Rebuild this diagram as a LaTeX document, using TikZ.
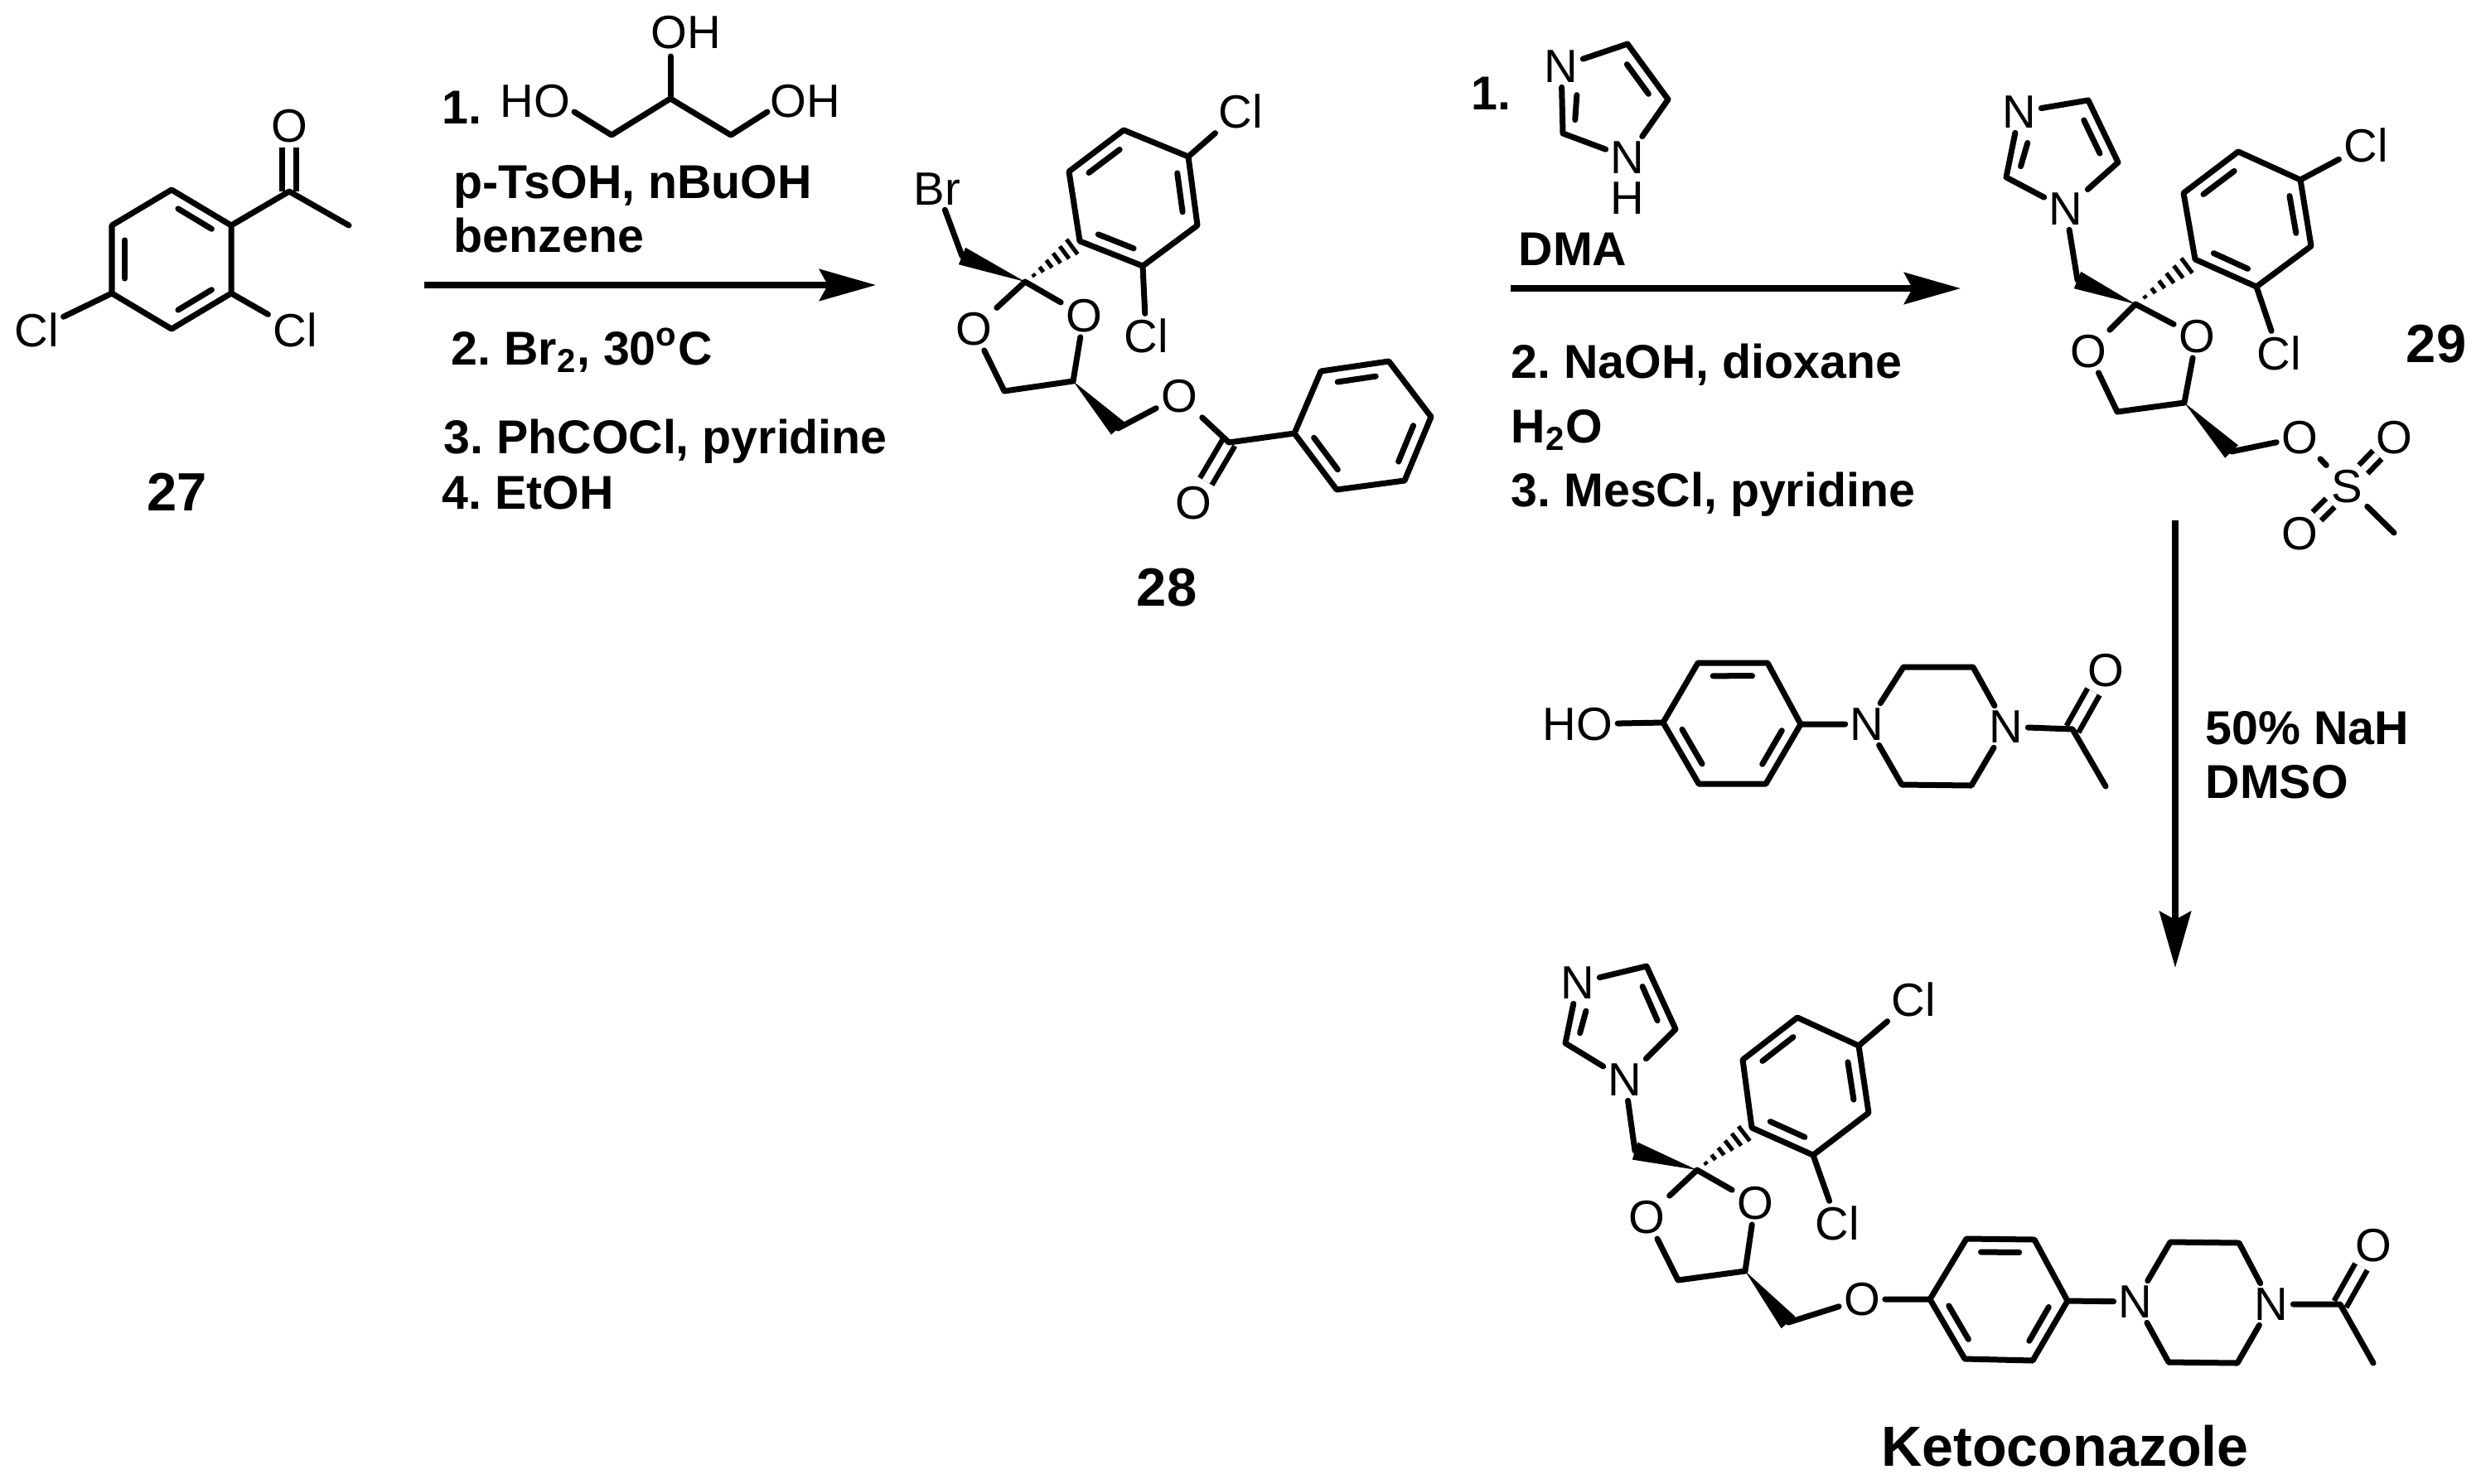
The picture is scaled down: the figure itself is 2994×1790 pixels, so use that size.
\documentclass[tikz,border=0pt]{standalone}
\usepackage{fontspec}
\setmainfont{Liberation Sans}
\frenchspacing
\usetikzlibrary{calc, arrows.meta}
\tikzset{bond/.style={line width=0.07cm, line cap=round, line join=round}}
\tikzset{dbond/.style={line width=0.065cm, double, double distance=0.1cm}}
\tikzset{hash/.style={line width=0.05cm}}
\tikzset{atom/.style={inner sep=1.5pt, font=\fontsize{16}{18}\selectfont}}
\tikzset{reagent/.style={anchor=base west, inner sep=0pt, font=\fontsize{16.3}{18}\selectfont\bfseries}}
\tikzset{cmpd/.style={inner sep=0pt, font=\fontsize{18.5}{22}\selectfont\bfseries}}
\tikzset{rxn/.style={line width=0.075cm, -{Stealth[length=0.68cm, width=0.38cm, inset=0.1cm]}}}
\newcommand{\pts}[1]{\foreach \n/\x/\y in {#1} \coordinate (\n) at (\x,\y);}
\newcommand{\innerbond}[3]{\draw[bond] ($($(#1)!.14!(#2)$)!0.17cm!(#3)$) -- ($($(#2)!.14!(#1)$)!0.17cm!(#3)$);}
\newcommand{\wedgebond}[2]{\fill (#1) -- ($(#2)!0.11cm!90:(#1)$) -- ($(#2)!0.11cm!-90:(#1)$) -- cycle;}
\newcommand{\hashbond}[2]{\foreach \tpos in {.16,.3,.44,.58,.72,.86}{
    \pgfmathsetmacro{\hw}{\tpos*0.13}
    \draw[hash] ($(#1)!\tpos!(#2)!\hw cm!90:(#2)$) -- ($(#1)!\tpos!(#2)!\hw cm!-90:(#2)$);}}
\begin{document}
\begin{tikzpicture}[x=0.01cm, y=-0.01cm]
  \useasboundingbox (0,0) rectangle (2994,1790);

  % compound 27
  \pts{ka1/207/229, ka2/279/272, ka3/279/354, ka4/207/397, ka5/135/354, ka6/135/272, kac/207/313, kco/349/231, kme/421/272}
  \node[atom] (kO) at (349,152) {O};
  \node[atom] (kcl1) at (356,398) {Cl};
  \node[atom] (kcl2) at (44,398) {Cl};
  \draw[dbond] (kco) -- (kO);
  \draw[bond] (ka1) -- (ka2) -- (ka3) -- (ka4) -- (ka5) -- (ka6) -- cycle;
  \draw[bond] (ka2) -- (kco) -- (kme);
  \draw[bond] (ka3) -- (kcl1);
  \draw[bond] (ka5) -- (kcl2);
  \innerbond{ka1}{ka2}{kac}
  \innerbond{ka3}{ka4}{kac}
  \innerbond{ka5}{ka6}{kac}
  \node[cmpd] (n27) at (214,594) {27};

  % glycerol and first arrow
  \pts{gc1/738/163, gc2/809/119, gc3/882/163, gho/693/135, goh/926/135, gtop/809/68}
  \node[atom] (gHO) at (646,122) {HO};
  \node[atom] (gOH) at (972,122) {OH};
  \node[atom] (gOHt) at (828,39) {OH};
  \draw[bond] (gho) -- (gc1) -- (gc2) -- (gc3) -- (goh);
  \draw[bond] (gc2) -- (gtop);
  \node[reagent] (r1a) at (533,149) {1.};
  \node[reagent] (r1b) at (547,239) {p-TsOH, nBuOH};
  \node[reagent] (r1c) at (547,304) {benzene};
  \node[reagent] (r1d) at (544,440) {2. Br\textsubscript{2}, 30\textsuperscript{o}C};
  \node[reagent] (r1e) at (535,547) {3. PhCOCl, pyridine};
  \node[reagent] (r1f) at (533,614) {4. EtOH};
  \pts{ar1s/512/344, ar1e/1057/344}
  \draw[rxn] (ar1s) -- (ar1e);

  % compound 28
  \pts{bc/1237/340, bch/1161/309, ba1/1303/291, ba2/1379/321, ba3/1445/272, ba4/1434/189, ba5/1356/157, ba6/1290/207, bac/1367/239, bd1/1212/472, bd2/1295/460, bch2/1349/517, bco/1483/534, bp1/1562/523, bp2/1594/448, bp3/1676/436, bp4/1727/503, bp5/1695/580, bp6/1613/591, bpc/1645/513}
  \node[atom] (bBr) at (1131,228) {Br};
  \node[atom] (bcl1) at (1497,134) {Cl};
  \node[atom] (bcl2) at (1383,405) {Cl};
  \node[atom] (bO1) at (1175,397) {O};
  \node[atom] (bO2) at (1308,381) {O};
  \node[atom] (bO3) at (1423,478) {O};
  \node[atom] (bO4) at (1440,607) {O};
  \draw[dbond] (bco) -- (bO4);
  \draw[bond] (bBr) -- (bch);
  \wedgebond{bc}{bch}
  \hashbond{bc}{ba1}
  \draw[bond] (ba1) -- (ba2) -- (ba3) -- (ba4) -- (ba5) -- (ba6) -- cycle;
  \draw[bond] (ba4) -- (bcl1);
  \draw[bond] (ba2) -- (bcl2);
  \draw[bond] (bc) -- (bO1) -- (bd1) -- (bd2) -- (bO2) -- (bc);
  \wedgebond{bd2}{bch2}
  \draw[bond] (bch2) -- (bO3) -- (bco) -- (bp1);
  \draw[bond] (bp1) -- (bp2) -- (bp3) -- (bp4) -- (bp5) -- (bp6) -- cycle;
  \innerbond{ba5}{ba6}{bac}
  \innerbond{ba3}{ba4}{bac}
  \innerbond{ba1}{ba2}{bac}
  \innerbond{bp2}{bp3}{bpc}
  \innerbond{bp4}{bp5}{bpc}
  \innerbond{bp6}{bp1}{bpc}
  \node[cmpd] (n28) at (1408,709) {28};

  % imidazole and second arrow
  \pts{ic1/1964/53, ic2/2013/120, ic3/1886/161, inb/1886/104, icc/1942/121}
  \node[atom] (iN) at (1884,80) {N};
  \node[atom] (iNH) at (1964,190) {N};
  \node[atom, inner sep=0pt] (iH) at (1964,239) {H};
  \draw[bond] (iN) -- (ic1) -- (ic2) -- (iNH) -- (ic3) -- (iN);
  \innerbond{ic1}{ic2}{icc}
  \innerbond{inb}{ic3}{icc}
  \node[reagent] (r2a) at (1775,132) {1.};
  \node[reagent] (r2b) at (1832,320) {DMA};
  \node[reagent] (r2c) at (1823,456) {2. NaOH, dioxane};
  \node[reagent] (r2d) at (1823,534) {H\textsubscript{2}O};
  \node[reagent] (r2e) at (1823,611) {3. MesCl, pyridine};
  \pts{ar2s/1823/348, ar2e/2366/348}
  \draw[rxn] (ar2s) -- (ar2e);

  % compound 29
  \pts{mi1/2520/121, mi2/2556/196, mi3/2421/214, minb/2432/160, mic/2485/184, mch/2507/338, mc/2577/367, ma1/2649/313, ma2/2723/346, ma3/2789/297, ma4/2776/217, ma5/2701/183, ma6/2635/233, mac/2712/265, md1/2555/497, md2/2636/486, mch2/2693/545, mme/2889/643}
  \node[atom] (mN1) at (2437,135) {N};
  \node[atom] (mN2) at (2493,252) {N};
  \node[atom] (mcl1) at (2855,175) {Cl};
  \node[atom] (mcl2) at (2750,426) {Cl};
  \node[atom] (mO1) at (2520,424) {O};
  \node[atom] (mO2) at (2651,406) {O};
  \node[atom] (mO3) at (2775,528) {O};
  \node[atom] (mS) at (2832,587) {S};
  \node[atom] (mO4) at (2889,528) {O};
  \node[atom] (mO5) at (2775,644) {O};
  \draw[dbond, double distance=0.08cm, shorten <=-0.07cm, shorten >=-0.07cm] (mS) -- (mO4);
  \draw[dbond, double distance=0.08cm, shorten <=-0.07cm, shorten >=-0.07cm] (mS) -- (mO5);
  \draw[bond] (mN1) -- (mi1) -- (mi2) -- (mN2) -- (mi3) -- (mN1);
  \innerbond{mi1}{mi2}{mic}
  \innerbond{minb}{mi3}{mic}
  \draw[bond] (mN2) -- (mch);
  \wedgebond{mc}{mch}
  \hashbond{mc}{ma1}
  \draw[bond] (ma1) -- (ma2) -- (ma3) -- (ma4) -- (ma5) -- (ma6) -- cycle;
  \draw[bond] (ma4) -- (mcl1);
  \draw[bond] (ma2) -- (mcl2);
  \draw[bond] (mc) -- (mO1) -- (md1) -- (md2) -- (mO2) -- (mc);
  \wedgebond{md2}{mch2}
  \draw[bond] (mch2) -- (mO3) -- (mS) -- (mme);
  \innerbond{ma5}{ma6}{mac}
  \innerbond{ma3}{ma4}{mac}
  \innerbond{ma1}{ma2}{mac}
  \node[cmpd] (n29) at (2940,415) {29};

  % phenol piperazine and third arrow
  \pts{pa1/2007/872, pa2/2049/800, pa3/2133/800, pa4/2173/874, pa5/2131/946, pa6/2050/946, pac/2090/873, pz1/2297/805, pz2/2381/805, pz3/2295/947, pz4/2379/948, pco/2501/880, pme/2541/949}
  \node[atom] (pHO) at (1904,874) {HO};
  \node[atom] (pN1) at (2253,874) {N};
  \node[atom] (pN2) at (2421,877) {N};
  \node[atom] (pO) at (2541,809) {O};
  \draw[dbond] (pco) -- (pO);
  \draw[bond] (pHO) -- (pa1);
  \draw[bond] (pa1) -- (pa2) -- (pa3) -- (pa4) -- (pa5) -- (pa6) -- cycle;
  \draw[bond] (pa4) -- (pN1) -- (pz1) -- (pz2) -- (pN2) -- (pz4) -- (pz3) -- (pN1);
  \draw[bond] (pN2) -- (pco) -- (pme);
  \innerbond{pa2}{pa3}{pac}
  \innerbond{pa6}{pa1}{pac}
  \innerbond{pa4}{pa5}{pac}
  \node[reagent] (r3a) at (2661,898) {50\% NaH};
  \node[reagent] (r3b) at (2661,963) {DMSO};
  \pts{ar3s/2625/628, ar3e/2625/1168}
  \draw[rxn] (ar3s) -- (ar3e);

  % ketoconazole
  \pts{ti1/1987/1166, ti2/2022/1242, ti3/1889/1259, tinb/1899/1208, tic/1953/1232, tch/1973/1389, tc/2048/1412, ta1/2114/1361, ta2/2188/1394, ta3/2255/1343, ta4/2243/1262, ta5/2169/1228, ta6/2103/1279, tac/2179/1311, td1/2025/1545, td2/2106/1534, tch2/2158/1596, tb1/2329/1568, tb2/2373/1495, tb3/2455/1496, tb4/2495/1570, tb5/2453/1642, tb6/2371/1640, tbc/2412/1568, tz1/2619/1499, tz2/2702/1500, tz3/2617/1644, tz4/2700/1645, tco/2824/1574, tme/2864/1645}
  \node[atom] (tN1) at (1904,1186) {N};
  \node[atom] (tN2) at (1961,1303) {N};
  \node[atom] (tcl1) at (2309,1206) {Cl};
  \node[atom] (tcl2) at (2217,1476) {Cl};
  \node[atom] (tO1) at (1987,1469) {O};
  \node[atom] (tO2) at (2118,1452) {O};
  \node[atom] (tO3) at (2247,1568) {O};
  \node[atom] (tN3) at (2577,1571) {N};
  \node[atom] (tN4) at (2741,1574) {N};
  \node[atom] (tO4) at (2864,1503) {O};
  \draw[dbond] (tco) -- (tO4);
  \draw[bond] (tN1) -- (ti1) -- (ti2) -- (tN2) -- (ti3) -- (tN1);
  \innerbond{ti1}{ti2}{tic}
  \innerbond{tinb}{ti3}{tic}
  \draw[bond] (tN2) -- (tch);
  \wedgebond{tc}{tch}
  \hashbond{tc}{ta1}
  \draw[bond] (ta1) -- (ta2) -- (ta3) -- (ta4) -- (ta5) -- (ta6) -- cycle;
  \draw[bond] (ta4) -- (tcl1);
  \draw[bond] (ta2) -- (tcl2);
  \draw[bond] (tc) -- (tO1) -- (td1) -- (td2) -- (tO2) -- (tc);
  \wedgebond{td2}{tch2}
  \draw[bond] (tch2) -- (tO3) -- (tb1);
  \draw[bond] (tb1) -- (tb2) -- (tb3) -- (tb4) -- (tb5) -- (tb6) -- cycle;
  \draw[bond] (tb4) -- (tN3) -- (tz1) -- (tz2) -- (tN4) -- (tz4) -- (tz3) -- (tN3);
  \draw[bond] (tN4) -- (tco) -- (tme);
  \innerbond{ta5}{ta6}{tac}
  \innerbond{ta3}{ta4}{tac}
  \innerbond{ta1}{ta2}{tac}
  \innerbond{tb2}{tb3}{tbc}
  \innerbond{tb6}{tb1}{tbc}
  \innerbond{tb4}{tb5}{tbc}
  \node[cmpd, font=\fontsize{19.4}{22}\selectfont\bfseries] (nket) at (2492,1745) {Ketoconazole};
\end{tikzpicture}
\end{document}
